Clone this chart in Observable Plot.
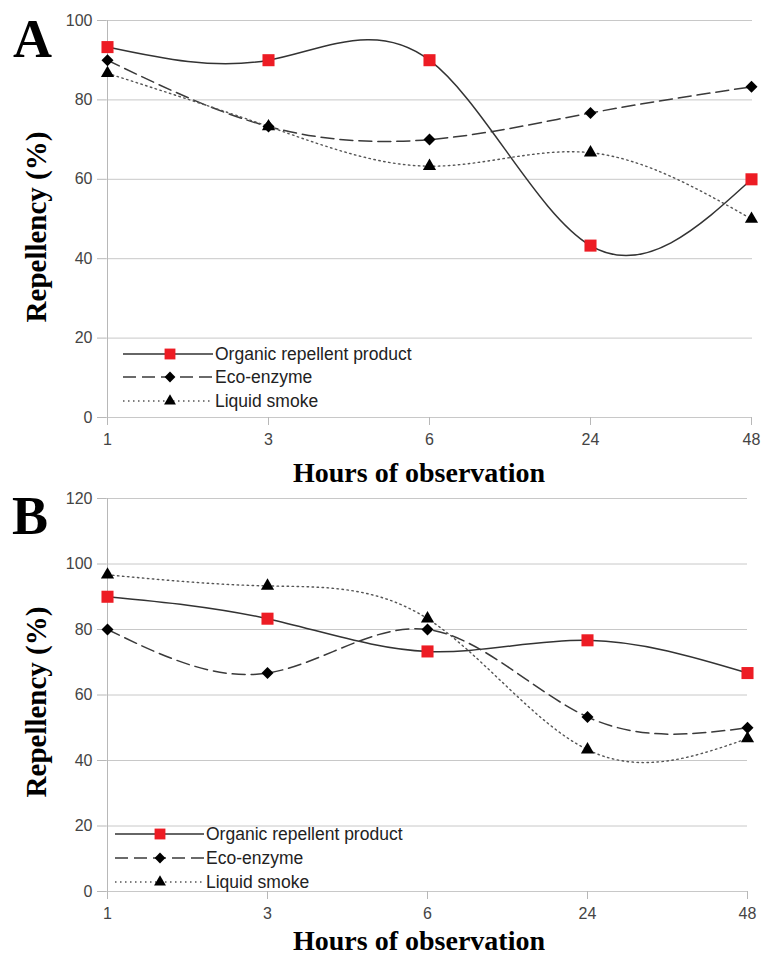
<!DOCTYPE html>
<html><head><meta charset="utf-8">
<script src="https://cdn.jsdelivr.net/npm/d3@7"></script>
<script src="https://cdn.jsdelivr.net/npm/@observablehq/plot@0.6"></script>
<style>
body{margin:0;background:#fff;}
#wrap{position:relative;width:768px;height:957px;overflow:hidden;background:#fff;}
#wrap > svg{position:absolute;left:0;}
</style></head><body><div id="wrap"></div>
<script>
// ---- data ----
const hours = ["1","3","6","24","48"];
const seriesNames = ["Organic repellent product","Eco-enzyme","Liquid smoke"];
const organicA = [93.3, 90, 90, 43.3, 60];
const ecoA     = [90, 73.3, 70, 76.7, 83.3];
const smokeA   = [86.7, 73.3, 63.3, 66.7, 50];
const organicB = [90, 83.3, 73.3, 76.7, 66.7];
const ecoB     = [80, 66.7, 80, 53.3, 50];
const smokeB   = [96.7, 93.3, 83.3, 43.3, 46.7];
const yTicksA = [0, 20, 40, 60, 80, 100];
const yTicksB = [0, 20, 40, 60, 80, 100, 120];
const panelLabels = ["A", "B"];
const xTitle = "Hours of observation";
const yTitle = "Repellency (%)";

// ---- styles ----
const styles = [
  {stroke: "#333", dash: null, width: 1.5, symbol: "square", d3sym: d3.symbolSquare, fill: "#ed1c24", r: 6.8},
  {stroke: "#3a3a3a", dash: "13,6", width: 1.5, symbol: "diamond2", d3sym: d3.symbolDiamond2, fill: "#000", r: 5.4},
  {stroke: "#555", dash: "1.5,3.5", width: 1.4, symbol: "triangle", d3sym: d3.symbolTriangle, fill: "#000", r: 4.9}
];
const tickFont = "'Liberation Sans', Arial, sans-serif";

function makePanel(values, yTicks, cfg) {
  const data = [];
  values.forEach((vals, si) => vals.forEach((v, i) => data.push({series: seriesNames[si], hour: hours[i], value: v})));
  const marks = [
    Plot.gridY(yTicks, {stroke: "#c8c8c8", strokeOpacity: 1}),
    Plot.ruleX([hours[0]], {stroke: "#b8b8b8"}),
    Plot.axisY(yTicks, {tickSize: 9, tickPadding: 5, stroke: "#b8b8b8", fill: "#444", fontSize: 16, label: null}),
    Plot.axisX({tickSize: 8, tickPadding: 8, stroke: "#b8b8b8", fill: "#444", fontSize: 16, label: null})
  ];
  seriesNames.forEach((name, si) => {
    const s = styles[si];
    marks.push(Plot.line(data.filter(d => d.series === name), {
      x: "hour", y: "value", curve: "natural", stroke: s.stroke, strokeWidth: s.width,
      strokeDasharray: s.dash || undefined
    }));
  });
  seriesNames.forEach((name, si) => {
    const s = styles[si];
    marks.push(Plot.dot(data.filter(d => d.series === name), {
      x: "hour", y: "value", symbol: s.symbol, r: s.r, fill: s.fill, stroke: "none"
    }));
  });
  const svg = Plot.plot({
    width: 768, height: cfg.height,
    marginTop: cfg.mt, marginBottom: cfg.mb, marginLeft: cfg.ml, marginRight: cfg.mr,
    style: {fontFamily: tickFont, fontSize: "16px", background: "transparent", overflow: "visible"},
    x: {type: "point", domain: hours, padding: 0, label: null, axis: null},
    y: {domain: [yTicks[0], yTicks[yTicks.length - 1]], label: null, axis: null},
    marks
  });
  svg.style.top = cfg.top + "px";
  return svg;
}

const wrap = document.getElementById("wrap");
wrap.appendChild(makePanel([organicA, ecoA, smokeA], yTicksA, {top: 0, height: 447, mt: 20, mb: 30, ml: 106, mr: 16}));
wrap.appendChild(makePanel([organicB, ecoB, smokeB], yTicksB, {top: 478, height: 443, mt: 20, mb: 30, ml: 106, mr: 21}));

// ---- overlay: panel letters, axis titles, legends ----
const ov = d3.select(wrap).append("svg")
  .attr("width", 768).attr("height", 957)
  .style("top", "0px").style("pointer-events", "none");

const panelsGeo = [
  {letterX: 13, letterY: 57, yTitleY: 227, xTitleY: 482, legY: [354, 377, 401], legX0: 123, legX1: 213, legM: 170},
  {letterX: 12, letterY: 534, yTitleY: 702, xTitleY: 950, legY: [834, 858, 882], legX0: 115, legX1: 204, legM: 160}
];
panelsGeo.forEach((g, pi) => {
  ov.append("text").attr("x", g.letterX).attr("y", g.letterY)
    .attr("font-family", "'Liberation Serif', serif").attr("font-weight", "bold").attr("font-size", 54)
    .text(panelLabels[pi]);
  ov.append("text").attr("transform", `translate(36,${g.yTitleY}) rotate(-90)`)
    .attr("text-anchor", "middle").attr("dominant-baseline", "central")
    .attr("font-family", "'Liberation Serif', serif").attr("font-weight", "bold").attr("font-size", 29)
    .text(yTitle);
  ov.append("text").attr("x", 419).attr("y", g.xTitleY).attr("text-anchor", "middle")
    .attr("font-family", "'Liberation Serif', serif").attr("font-weight", "bold").attr("font-size", 28)
    .text(xTitle);
  seriesNames.forEach((name, si) => {
    const s = styles[si];
    const y = g.legY[si];
    ov.append("line").attr("x1", g.legX0).attr("x2", g.legX1).attr("y1", y).attr("y2", y)
      .attr("stroke", s.stroke).attr("stroke-width", s.width).attr("stroke-dasharray", s.dash);
    ov.append("path").attr("transform", `translate(${g.legM},${y})`)
      .attr("d", d3.symbol(s.d3sym, Math.PI * (s.r * 0.9) ** 2)()).attr("fill", s.fill);
    ov.append("text").attr("x", g.legX1 + 2).attr("y", y).attr("dy", "0.35em")
      .attr("font-family", tickFont).attr("font-size", 17.5).attr("fill", "#222")
      .text(name);
  });
});
</script></body></html>
